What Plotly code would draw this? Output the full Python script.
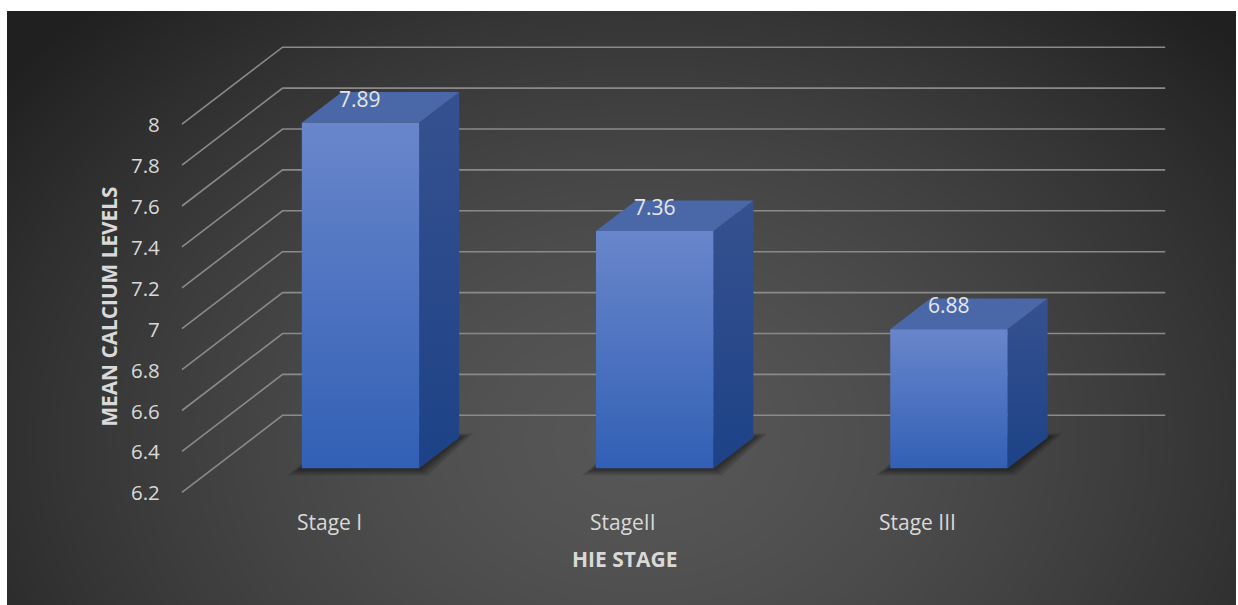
import base64
import struct
import zlib

import numpy as np
import plotly.graph_objects as go

# ---------------- data ----------------
categories = ["Stage I", "StageII", "Stage III"]
mean_calcium = [7.89, 7.36, 6.88]
y_ticks = [6.2, 6.4, 6.6, 6.8, 7.0, 7.2, 7.4, 7.6, 7.8, 8.0]
y_tick_labels = ["6.2", "6.4", "6.6", "6.8", "7", "7.2", "7.4", "7.6", "7.8", "8"]
x_title = "HIE STAGE"
y_title = "MEAN CALCIUM LEVELS"

# ---------------- layout / projection constants ----------------
W, H = 1238, 605
X_RANGE = [-1.1186, 3.0894]          # category units over full figure width
Y_RANGE = [5.6489, 8.6073]           # value units over full figure height
PX_X = W / (X_RANGE[1] - X_RANGE[0])  # pixels per category unit
PX_V = H / (Y_RANGE[1] - Y_RANGE[0])  # pixels per value unit

DX = 100.6 / PX_X      # oblique depth vector (full wall depth)
DV = 77.0 / PX_V
BASE = y_ticks[0]
XL, XR = -0.5, 2.5     # wall extent in category units
F0, F1 = 0.312, 0.71   # bar depth (front, back) as fraction of wall depth
HW = 0.1994            # bar half width

FONT = "Open Sans"
TXT = "#d9d9d9"


def P(x, v, f):
    return x + f * DX, v + f * DV


def poly(pts):
    xs = [p[0] for p in pts] + [pts[0][0]]
    ys = [p[1] for p in pts] + [pts[0][1]]
    return xs, ys


fig = go.Figure()

# ---------------- gridlines (side wall + back wall) ----------------
gx, gy = [], []
for v in y_ticks:
    a = P(XL, v, 0)
    b = P(XL, v, 1)
    c = P(XR, v, 1)
    gx += [a[0], b[0], c[0], None]
    gy += [a[1], b[1], c[1], None]
fig.add_trace(go.Scatter(x=gx, y=gy, mode="lines",
                         line=dict(color="#8a8a8a", width=1.6),
                         hoverinfo="skip", showlegend=False))

# ---------------- bar shadows ----------------
for i, val in enumerate(mean_calcium):
    for e in [14, 10, 7, 4]:
        ex, ev = e / PX_X, e / PX_V
        pts = [
            P(i - HW - ex, BASE - ev * 0.5, F0),
            P(i + HW + ex * 0.6, BASE - ev * 0.5, F0),
            P(i + HW + ex, BASE + ev * 0.3, F1),
            P(i - HW - ex * 0.3, BASE + ev * 0.3, F1),
        ]
        xs, ys = poly(pts)
        fig.add_trace(go.Scatter(x=xs, y=ys, mode="lines", fill="toself",
                                 fillcolor="rgba(0,0,0,0.13)",
                                 line=dict(width=0), hoverinfo="skip",
                                 showlegend=False))

# ---------------- 3D bars ----------------
for i, val in enumerate(mean_calcium):
    # side face
    xs, ys = poly([P(i + HW, BASE, F0), P(i + HW, val, F0),
                   P(i + HW, val, F1), P(i + HW, BASE, F1)])
    fig.add_trace(go.Scatter(
        x=xs, y=ys, mode="lines", fill="toself", line=dict(width=0),
        fillgradient=dict(type="vertical",
                          colorscale=[[0, "#1d4287"], [1, "#36518f"]]),
        hoverinfo="skip", showlegend=False))
    # top face
    xs, ys = poly([P(i - HW, val, F0), P(i + HW, val, F0),
                   P(i + HW, val, F1), P(i - HW, val, F1)])
    fig.add_trace(go.Scatter(
        x=xs, y=ys, mode="lines", fill="toself", line=dict(width=0),
        fillcolor="#4a68a8", hoverinfo="skip", showlegend=False))
    # front face
    xs, ys = poly([P(i - HW, BASE, F0), P(i + HW, BASE, F0),
                   P(i + HW, val, F0), P(i - HW, val, F0)])
    fig.add_trace(go.Scatter(
        x=xs, y=ys, mode="lines", fill="toself", line=dict(width=0),
        fillgradient=dict(type="vertical",
                          colorscale=[[0, "#3260b5"], [1, "#6986cb"]]),
        hovertext=f"{categories[i]}: {val}", hoverinfo="text",
        showlegend=False))

annotations = []
# data labels
for i, val in enumerate(mean_calcium):
    x, y = P(i, val, F0)
    annotations.append(dict(x=x, y=y, xref="x", yref="y", text=f"{val:g}",
                            showarrow=False, yshift=24,
                            xanchor="center", yanchor="middle",
                            font=dict(family=FONT, size=21, color="#e6e6e6")))
# y tick labels
for v, lab in zip(y_ticks, y_tick_labels):
    x, y = P(XL, v, 0)
    annotations.append(dict(x=x, y=y, xref="x", yref="y", text=lab,
                            showarrow=False, xanchor="right", yanchor="middle",
                            xshift=-20,
                            font=dict(family=FONT, size=20.5, color=TXT)))
# category labels
for i, cat in enumerate(categories):
    annotations.append(dict(x=i, y=BASE, xref="x", yref="y", text=cat,
                            showarrow=False, yshift=-30,
                            xanchor="center", yanchor="middle",
                            font=dict(family=FONT, size=21, color=TXT)))
# axis titles
annotations.append(dict(x=624.3 / W, y=1 - 559.3 / H, xref="paper", yref="paper",
                        text=f"<b>{x_title}</b>", showarrow=False,
                        xanchor="center", yanchor="middle",
                        font=dict(family=FONT, size=21, color=TXT)))
annotations.append(dict(x=108.5 / W, y=1 - 307 / H, xref="paper", yref="paper",
                        text=f"<b>{y_title}</b>", showarrow=False, textangle=-90,
                        xanchor="center", yanchor="middle",
                        font=dict(family=FONT, size=20.8, color=TXT)))

# ---------------- radial background (PNG) ----------------
bx0, by0, bx1, by1 = 7, 11, 1236, 605
bw, bh = bx1 - bx0, by1 - by0
yy, xx = np.mgrid[by0:by1, bx0:bx1].astype(float)
cx, cy, rx, ry = 640.0, 440.0, 800.0, 600.0
r = np.sqrt(((xx - cx) / rx) ** 2 + ((yy - cy) / ry) ** 2)
t = np.clip(r, 0, 1) ** 1.5
c_center, c_edge = 87.0, 32.0
val_img = c_center - (c_center - c_edge) * t
img = np.repeat(np.clip(val_img, 0, 255).astype(np.uint8)[:, :, None], 3, axis=2)


def png_bytes(arr):
    h, w, _ = arr.shape
    raw = b"".join(b"\x00" + arr[row].tobytes() for row in range(h))

    def chunk(tag, data):
        c = struct.pack(">I", len(data)) + tag + data
        return c + struct.pack(">I", zlib.crc32(tag + data) & 0xFFFFFFFF)

    return (b"\x89PNG\r\n\x1a\n"
            + chunk(b"IHDR", struct.pack(">IIBBBBB", w, h, 8, 2, 0, 0, 0))
            + chunk(b"IDAT", zlib.compress(raw, 9))
            + chunk(b"IEND", b""))


bg_src = "data:image/png;base64," + base64.b64encode(png_bytes(img)).decode()

fig.update_layout(
    width=W, height=H, autosize=False,
    margin=dict(l=0, r=0, t=0, b=0, pad=0),
    paper_bgcolor="white", plot_bgcolor="rgba(0,0,0,0)",
    xaxis=dict(range=X_RANGE, visible=False, fixedrange=True),
    yaxis=dict(range=Y_RANGE, visible=False, fixedrange=True),
    showlegend=False,
    annotations=annotations,
    images=[dict(source=bg_src, xref="paper", yref="paper",
                 x=bx0 / W, y=1 - by0 / H, sizex=bw / W, sizey=bh / H,
                 xanchor="left", yanchor="top", sizing="stretch",
                 layer="below")],
)

fig.write_html("out.html")
